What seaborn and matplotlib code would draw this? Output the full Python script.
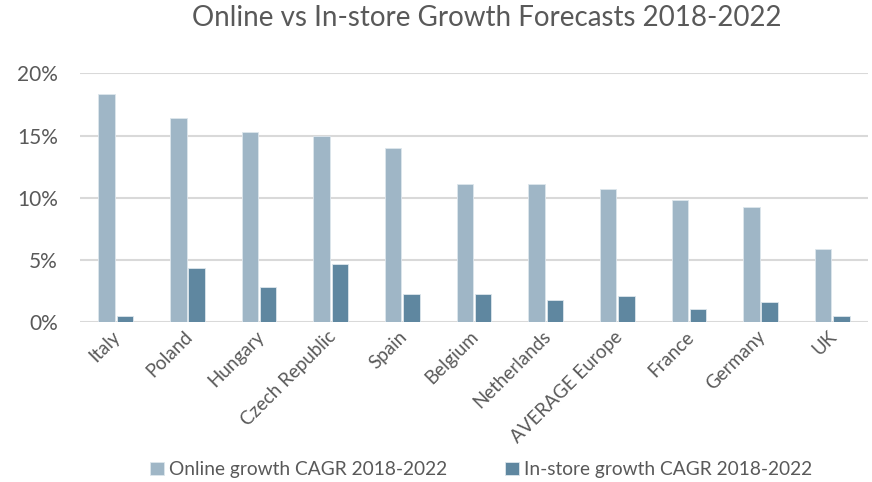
import matplotlib
matplotlib.use("Agg")
import matplotlib.pyplot as plt
import matplotlib.transforms as mtransforms
import seaborn as sns
import pandas as pd
from matplotlib.ticker import FuncFormatter

countries = ["Italy", "Poland", "Hungary", "Czech Republic", "Spain", "Belgium",
             "Netherlands", "AVERAGE Europe", "France", "Germany", "UK"]
online = [18.3, 16.4, 15.3, 15.0, 14.0, 11.1, 11.1, 10.7, 9.8, 9.3, 5.9]
instore = [0.5, 4.4, 2.8, 4.7, 2.3, 2.3, 1.8, 2.1, 1.1, 1.6, 0.5]
series = ["Online growth CAGR 2018-2022", "In-store growth CAGR 2018-2022"]

df = pd.DataFrame({
    "country": countries * 2,
    "value": online + instore,
    "series": [series[0]] * len(countries) + [series[1]] * len(countries),
})

sns.set_theme(style="white")
plt.rcParams['font.family'] = ['Lato', 'DejaVu Sans']
grey = "#595959"

fig = plt.figure(figsize=(8.72, 4.82), dpi=100)
ax = fig.add_axes([80/872, (482-322.3)/482, 788/872, 249/482])

sns.barplot(data=df, x="country", y="value", hue="series", order=countries,
            hue_order=series, palette=["#9fb6c6", "#5f87a0"], saturation=1,
            width=0.51, gap=0.1, edgecolor="#dde6ec", linewidth=0.6, ax=ax, legend=True)

ax.set_ylim(0, 20)
ax.set_yticks([0, 5, 10, 15, 20])
ax.yaxis.set_major_formatter(FuncFormatter(lambda v, p: f"{v:.0f}%"))
ax.yaxis.grid(True, color="#d9d9d9", linewidth=1.5)
ax.set_axisbelow(True)
for s in ax.spines.values():
    s.set_visible(False)
ax.set_xlabel("")
ax.set_ylabel("")
ax.tick_params(axis="y", labelsize=15, labelcolor=grey, length=0, pad=16)
ax.tick_params(axis="x", labelsize=13.5, labelcolor=grey, length=0, pad=4)
offset = mtransforms.ScaledTranslation(-4/100, 0, fig.dpi_scale_trans)
for lab in ax.get_xticklabels():
    lab.set_rotation(45)
    lab.set_ha("right")
    lab.set_rotation_mode("anchor")
    lab.set_transform(lab.get_transform() + offset)

fig.suptitle("Online vs In-store Growth Forecasts 2018-2022", x=0.558, y=0.99,
             fontsize=20, color=grey)

leg = ax.legend(loc="center", bbox_to_anchor=(0.552, 0.026), bbox_transform=fig.transFigure,
                ncol=2, frameon=False, fontsize=13.8, handlelength=0.7, handleheight=0.7,
                handletextpad=0.3, columnspacing=3.0)
for t in leg.get_texts():
    t.set_color(grey)

fig.savefig("out.png", dpi=100)
